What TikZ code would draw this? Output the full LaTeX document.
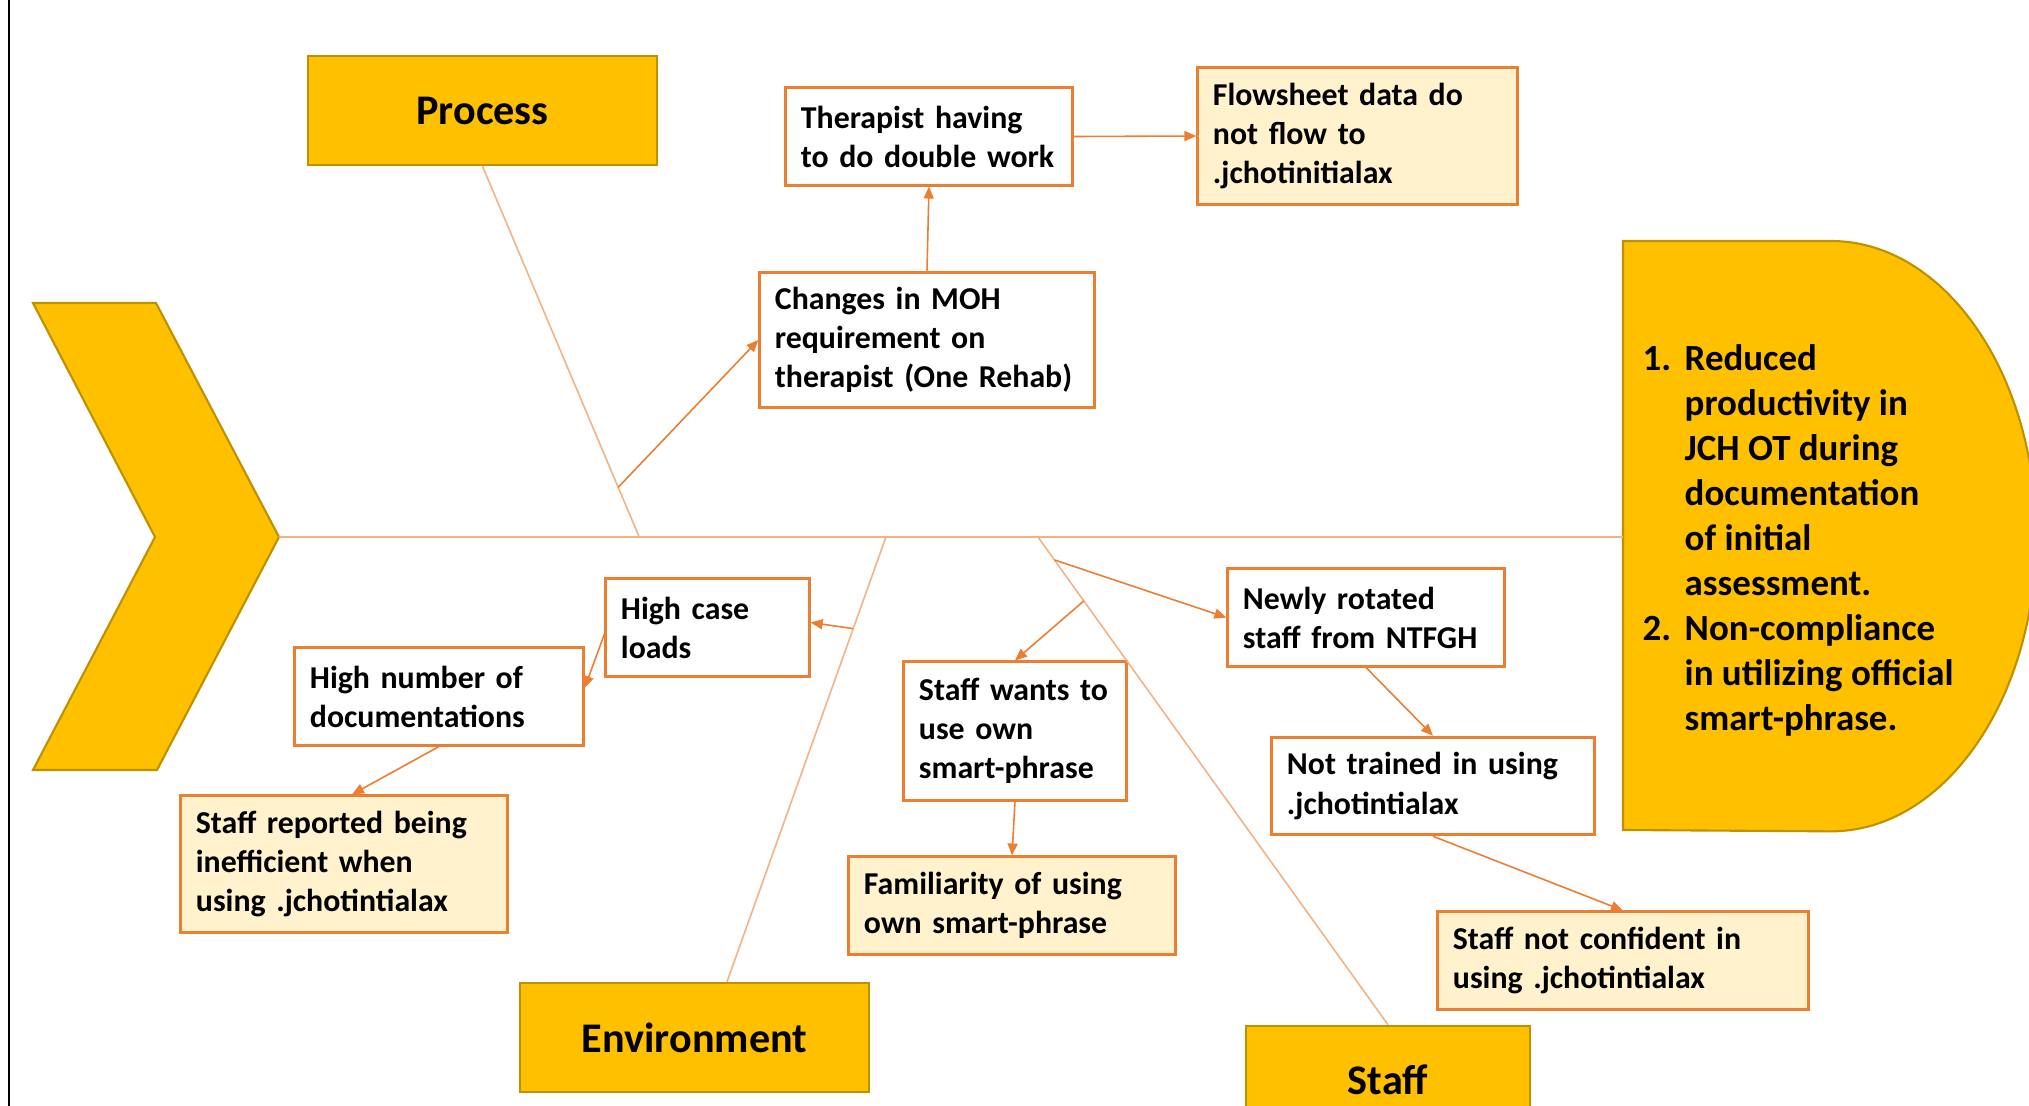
\documentclass[tikz,border=0pt]{standalone}
\usepackage{fontspec}
\setmainfont{Carlito}
\usepackage{tikz}
\usetikzlibrary{arrows.meta}
\definecolor{gold}{HTML}{FFC000}
\definecolor{golddark}{HTML}{BF9000}
\definecolor{rust}{HTML}{ED7D31}
\definecolor{peach}{HTML}{F4B183}
\definecolor{cream}{HTML}{FFF2CC}

\begin{document}
\begin{tikzpicture}[x=0.01cm, y=-0.01cm,
  head/.style = {draw=golddark, fill=gold, line width=0.7pt, inner sep=0, minimum width=3.49cm, minimum height=1.09cm, font=\fontsize{12}{14}\selectfont\bfseries},
  cause/.style = {draw=rust, fill=white, line width=0.85pt, align=left, inner xsep=0.15cm, inner ysep=0, font=\fontsize{9.05}{11.1}\selectfont\bfseries},
  subcause/.style = {cause, fill=cream},
  bone/.style = {draw=peach, line width=0.45pt},
  link/.style = {draw=rust, line width=0.45pt, -{Triangle[length=0.12cm, width=0.1cm]}}]
	\useasboundingbox (0,0) rectangle (2029,1106);
	\clip (0,0) rectangle (2029,1106);
	\draw[line width=0.6pt] (9,0) -- (9,1106);
	% head and tail of the fish
	\draw[golddark, fill=gold, line width=0.6pt] (33,303) -- (156,303) -- (279,537) -- (157,770) -- (33,770) -- (155,537) -- cycle;
	\draw[golddark, fill=gold, line width=0.6pt] (1623,241) -- (1831,241) arc[start angle=90, end angle=-90, x radius=2.05cm, y radius=2.95cm] -- (1623,830) -- cycle;
	\coordinate (tip) at (279,537);
	\coordinate (goal) at (1623,537);
	\node[anchor=west, align=left, inner sep=0, font=\fontsize{10.5}{12.8}\selectfont\bfseries] (effect) at (1642,540)
	  {\makebox[0.42cm][l]{1.}Reduced\\\hspace*{0.42cm}productivity in\\\hspace*{0.42cm}JCH OT during\\\hspace*{0.42cm}documentation\\\hspace*{0.42cm}of initial\\\hspace*{0.42cm}assessment.\\\makebox[0.42cm][l]{2.}Non-compliance\\\hspace*{0.42cm}in utilizing official\\\hspace*{0.42cm}smart-phrase.};
	% categories
	\node[head] (proc) at (482.5,110.5) {Process};
	\node[head] (env) at (694.5,1037.5) {Environment};
	\node[head, minimum width=2.84cm, minimum height=1.08cm] (staff) at (1388,1080) {Staff};
	% causes
	\node[cause, text width=2.56cm, minimum height=0.97cm] (double) at (929,136.5) {Therapist having\\to do double work};
	\node[subcause, text width=2.89cm, minimum height=1.36cm] (flow) at (1357.5,136) {Flowsheet data do\\not flow to\\.jchotinitialax};
	\node[cause, text width=3.04cm, minimum height=1.355cm] (rule) at (927,340) {Changes in MOH\\requirement on\\therapist (One Rehab)};
	\node[cause, text width=1.73cm, minimum height=0.97cm] (load) at (707.5,627.5) {High case\\loads};
	\node[cause, text width=2.58cm, minimum height=0.97cm] (docs) at (439,696.5) {High number of\\documentations};
	\node[subcause, text width=2.96cm, minimum height=1.36cm] (slow) at (344,864) {Staff reported being\\inefficient when\\using .jchotintialax};
	\node[cause, text width=1.92cm, minimum height=1.38cm] (ownsp) at (1015,731) {Staff wants to\\use own\\smart-phrase};
	\node[subcause, text width=2.96cm, minimum height=0.97cm] (habit) at (1012,905.5) {Familiarity of using\\own smart-phrase};
	\node[cause, text width=2.46cm, minimum height=0.97cm] (rotated) at (1366,617.5) {Newly rotated\\staff from NTFGH};
	\node[cause, text width=2.92cm, minimum height=0.975cm] (untrained) at (1433,786) {Not trained in using\\.jchotintialax};
	\node[subcause, text width=3.40cm, minimum height=0.97cm] (unsure) at (1623,960.5) {Staff not confident in\\using .jchotintialax};
	% spine and bones
	\draw[peach, line width=0.65pt] (tip) -- coordinate[pos=0.268] (sp1) coordinate[pos=0.4516] (sp2) coordinate[pos=0.5647] (sp3) (goal);
	\draw[bone] (proc.south) -- coordinate[pos=0.866] (pj) (sp1);
	\draw[bone] ([xshift=0.325cm]env.north) -- coordinate[pos=0.794] (ej) (sp2);
	\draw[bone] (sp3) -- coordinate[pos=0.047] (sja) coordinate[pos=0.131] (sjb) (staff.north);
	% arrows
	\draw[link] (pj) -- (rule.west);
	\draw[link] (rule.north) -- (double.south);
	\draw[link] (double.east) -- (flow.west);
	\draw[link] (ej) -- ([yshift=0.05cm]load.east);
	\draw[link] ([yshift=-0.065cm]load.west) -- ([yshift=0.085cm]docs.east);
	\draw[link] (docs.south) -- ([xshift=0.08cm]slow.north);
	\draw[link] (sja) -- (rotated.west);
	\draw[link] (sjb) -- (ownsp.north);
	\draw[link] (ownsp.south) -- (habit.north);
	\draw[link] (rotated.south) -- (untrained.north);
	\draw[link] (untrained.south) -- (unsure.north);
\end{tikzpicture}
\end{document}
